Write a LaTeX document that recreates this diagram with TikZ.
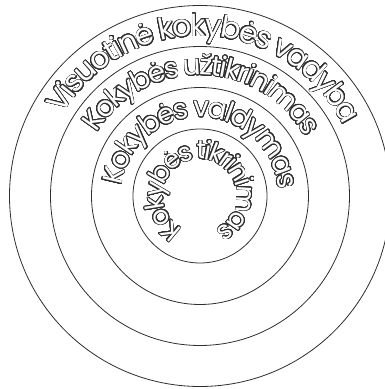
\documentclass[tikz,border=0pt]{standalone}
\usepackage{fontspec}
\setmainfont{Poppins}
\usepackage{contour}
\contourlength{0.7pt}
\contournumber{32}
\usetikzlibrary{decorations.text}
\definecolor{ink}{HTML}{2E2E2E}
\def\ringfont{}
\def\ringtrim{0pt}
% hollow letter: white glyph with a dark rim
\newcommand\hollowchar[1]{{\ringfont\makebox[\dimexpr\width-\ringtrim\relax]{\contour{ink}{#1}}}}

\begin{document}
\begin{tikzpicture}[x=1pt,y=1pt,
  ring/.style={ink, line width=0.8pt},
  ring font/.code={\def\ringfont{\fontsize{#1}{#1}\selectfont}\ringfont},
  ring trim/.code={\def\ringtrim{#1}},
  ringtext/.style={decorate, decoration={text effects along path, text={#1},
    text align=fit to path, text effects/.cd, text along path,
    character command=\hollowchar, characters={text=white}}}]
  \useasboundingbox (-200,-193) rectangle (185,196);
  \clip (-200,-193) rectangle (185,196);
  % the four circles
  \foreach \r in {67,108.5,149.5,190.5}
    \draw[ring] (0,0) circle[radius=\r];
  % labels along the circles
  \path[ring font=30, ring trim=2pt, ringtext={Visuotinė kokybės vadyba}]
    (149:160) arc[start angle=149, end angle=27, radius=160];
  \path[ring font=28, ring trim=2pt, ringtext={Kokybės užtikrinimas}]
    (148:121) arc[start angle=148, end angle=27, radius=121];
  \path[ring font=28, ring trim=2pt, ringtext={Kokybės valdymas}]
    (172:79) arc[start angle=172, end angle=-2, radius=79];
  \path[ring font=26, ring trim=2.5pt, ringtext={Kokybės tikrinimas}]
    (240:37) arc[start angle=240, end angle=-73, radius=37];
\end{tikzpicture}
\end{document}
